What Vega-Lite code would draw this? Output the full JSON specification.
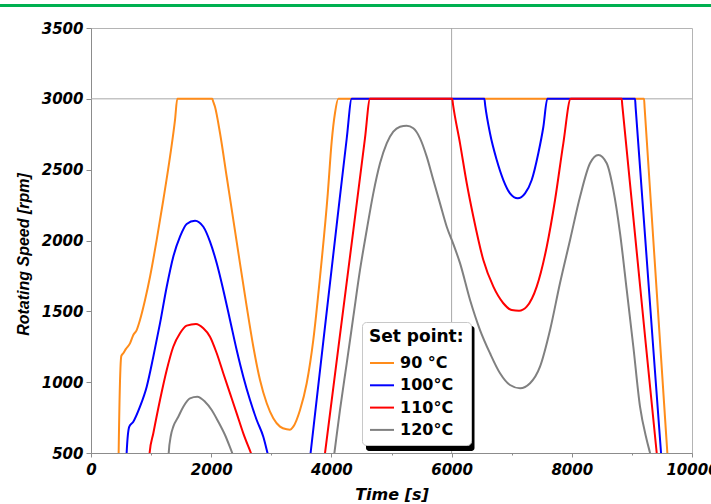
{
  "$schema": "https://vega.github.io/schema/vega-lite/v6.json",
  "width": 601,
  "height": 425,
  "autosize": "none",
  "padding": {"left": 91, "top": 28, "right": 19, "bottom": 51},
  "background": "white",
  "view": {"stroke": "#b4b4b4", "fill": "white"},
  "config": {
    "axis": {
      "gridColor": "#dadada",
      "gridWidth": 1,
      "domainColor": "#8c8c8c",
      "tickColor": "#8c8c8c",
      "labelColor": "black",
      "titleColor": "black"
    }
  },
  "datasets": {
    "speed": [
      {"t": 0, "rpm": 0, "sp": "90 °C"},
      {"t": 445, "rpm": 0, "sp": "90 °C"},
      {"t": 460, "rpm": 500, "sp": "90 °C"},
      {"t": 490, "rpm": 1100, "sp": "90 °C"},
      {"t": 505, "rpm": 1185, "sp": "90 °C"},
      {"t": 537, "rpm": 1204, "sp": "90 °C"},
      {"t": 582, "rpm": 1235, "sp": "90 °C"},
      {"t": 649, "rpm": 1274, "sp": "90 °C"},
      {"t": 704, "rpm": 1333, "sp": "90 °C"},
      {"t": 760, "rpm": 1368, "sp": "90 °C"},
      {"t": 815, "rpm": 1439, "sp": "90 °C"},
      {"t": 899, "rpm": 1580, "sp": "90 °C"},
      {"t": 982, "rpm": 1744, "sp": "90 °C"},
      {"t": 1093, "rpm": 2004, "sp": "90 °C"},
      {"t": 1203, "rpm": 2286, "sp": "90 °C"},
      {"t": 1315, "rpm": 2592, "sp": "90 °C"},
      {"t": 1398, "rpm": 2851, "sp": "90 °C"},
      {"t": 1436, "rpm": 3000, "sp": "90 °C"},
      {"t": 2018, "rpm": 3000, "sp": "90 °C"},
      {"t": 2030, "rpm": 2985, "sp": "90 °C"},
      {"t": 2063, "rpm": 2944, "sp": "90 °C"},
      {"t": 2147, "rpm": 2757, "sp": "90 °C"},
      {"t": 2258, "rpm": 2450, "sp": "90 °C"},
      {"t": 2368, "rpm": 2145, "sp": "90 °C"},
      {"t": 2479, "rpm": 1839, "sp": "90 °C"},
      {"t": 2591, "rpm": 1533, "sp": "90 °C"},
      {"t": 2701, "rpm": 1250, "sp": "90 °C"},
      {"t": 2812, "rpm": 1015, "sp": "90 °C"},
      {"t": 2924, "rpm": 851, "sp": "90 °C"},
      {"t": 3033, "rpm": 745, "sp": "90 °C"},
      {"t": 3145, "rpm": 686, "sp": "90 °C"},
      {"t": 3256, "rpm": 667, "sp": "90 °C"},
      {"t": 3311, "rpm": 665, "sp": "90 °C"},
      {"t": 3366, "rpm": 686, "sp": "90 °C"},
      {"t": 3478, "rpm": 804, "sp": "90 °C"},
      {"t": 3589, "rpm": 992, "sp": "90 °C"},
      {"t": 3699, "rpm": 1298, "sp": "90 °C"},
      {"t": 3811, "rpm": 1744, "sp": "90 °C"},
      {"t": 3940, "rpm": 2333, "sp": "90 °C"},
      {"t": 4005, "rpm": 2700, "sp": "90 °C"},
      {"t": 4060, "rpm": 2900, "sp": "90 °C"},
      {"t": 4115, "rpm": 3000, "sp": "90 °C"},
      {"t": 9202, "rpm": 3000, "sp": "90 °C"},
      {"t": 9212, "rpm": 2935, "sp": "90 °C"},
      {"t": 9590, "rpm": 500, "sp": "90 °C"},
      {"t": 9668, "rpm": 0, "sp": "90 °C"},
      {"t": 10000, "rpm": 0, "sp": "90 °C"},

      {"t": 0, "rpm": 0, "sp": "100°C"},
      {"t": 575, "rpm": 0, "sp": "100°C"},
      {"t": 593, "rpm": 500, "sp": "100°C"},
      {"t": 637, "rpm": 686, "sp": "100°C"},
      {"t": 704, "rpm": 721, "sp": "100°C"},
      {"t": 815, "rpm": 827, "sp": "100°C"},
      {"t": 927, "rpm": 968, "sp": "100°C"},
      {"t": 1037, "rpm": 1180, "sp": "100°C"},
      {"t": 1148, "rpm": 1415, "sp": "100°C"},
      {"t": 1260, "rpm": 1674, "sp": "100°C"},
      {"t": 1369, "rpm": 1886, "sp": "100°C"},
      {"t": 1481, "rpm": 2027, "sp": "100°C"},
      {"t": 1592, "rpm": 2117, "sp": "100°C"},
      {"t": 1731, "rpm": 2140, "sp": "100°C"},
      {"t": 1869, "rpm": 2097, "sp": "100°C"},
      {"t": 1980, "rpm": 1992, "sp": "100°C"},
      {"t": 2092, "rpm": 1839, "sp": "100°C"},
      {"t": 2201, "rpm": 1651, "sp": "100°C"},
      {"t": 2313, "rpm": 1439, "sp": "100°C"},
      {"t": 2424, "rpm": 1227, "sp": "100°C"},
      {"t": 2534, "rpm": 1039, "sp": "100°C"},
      {"t": 2646, "rpm": 874, "sp": "100°C"},
      {"t": 2757, "rpm": 733, "sp": "100°C"},
      {"t": 2867, "rpm": 615, "sp": "100°C"},
      {"t": 2937, "rpm": 500, "sp": "100°C"},
      {"t": 3200, "rpm": 0, "sp": "100°C"},
      {"t": 3520, "rpm": 0, "sp": "100°C"},
      {"t": 3654, "rpm": 500, "sp": "100°C"},
      {"t": 3866, "rpm": 1290, "sp": "100°C"},
      {"t": 4088, "rpm": 2110, "sp": "100°C"},
      {"t": 4255, "rpm": 2720, "sp": "100°C"},
      {"t": 4338, "rpm": 3000, "sp": "100°C"},
      {"t": 6545, "rpm": 3000, "sp": "100°C"},
      {"t": 6560, "rpm": 2950, "sp": "100°C"},
      {"t": 6639, "rpm": 2757, "sp": "100°C"},
      {"t": 6751, "rpm": 2568, "sp": "100°C"},
      {"t": 6861, "rpm": 2427, "sp": "100°C"},
      {"t": 6972, "rpm": 2333, "sp": "100°C"},
      {"t": 7100, "rpm": 2298, "sp": "100°C"},
      {"t": 7222, "rpm": 2333, "sp": "100°C"},
      {"t": 7333, "rpm": 2427, "sp": "100°C"},
      {"t": 7443, "rpm": 2616, "sp": "100°C"},
      {"t": 7527, "rpm": 2803, "sp": "100°C"},
      {"t": 7593, "rpm": 3000, "sp": "100°C"},
      {"t": 9052, "rpm": 3000, "sp": "100°C"},
      {"t": 9062, "rpm": 2940, "sp": "100°C"},
      {"t": 9485, "rpm": 500, "sp": "100°C"},
      {"t": 9572, "rpm": 0, "sp": "100°C"},
      {"t": 10000, "rpm": 0, "sp": "100°C"},

      {"t": 0, "rpm": 0, "sp": "110°C"},
      {"t": 950, "rpm": 0, "sp": "110°C"},
      {"t": 975, "rpm": 500, "sp": "110°C"},
      {"t": 1037, "rpm": 639, "sp": "110°C"},
      {"t": 1148, "rpm": 874, "sp": "110°C"},
      {"t": 1260, "rpm": 1086, "sp": "110°C"},
      {"t": 1369, "rpm": 1250, "sp": "110°C"},
      {"t": 1481, "rpm": 1345, "sp": "110°C"},
      {"t": 1592, "rpm": 1399, "sp": "110°C"},
      {"t": 1747, "rpm": 1411, "sp": "110°C"},
      {"t": 1869, "rpm": 1380, "sp": "110°C"},
      {"t": 1980, "rpm": 1321, "sp": "110°C"},
      {"t": 2092, "rpm": 1204, "sp": "110°C"},
      {"t": 2201, "rpm": 1063, "sp": "110°C"},
      {"t": 2313, "rpm": 921, "sp": "110°C"},
      {"t": 2424, "rpm": 780, "sp": "110°C"},
      {"t": 2534, "rpm": 639, "sp": "110°C"},
      {"t": 2661, "rpm": 500, "sp": "110°C"},
      {"t": 3120, "rpm": 0, "sp": "110°C"},
      {"t": 3745, "rpm": 0, "sp": "110°C"},
      {"t": 3894, "rpm": 500, "sp": "110°C"},
      {"t": 4143, "rpm": 1333, "sp": "110°C"},
      {"t": 4365, "rpm": 2072, "sp": "110°C"},
      {"t": 4559, "rpm": 2722, "sp": "110°C"},
      {"t": 4643, "rpm": 3000, "sp": "110°C"},
      {"t": 6010, "rpm": 3000, "sp": "110°C"},
      {"t": 6025, "rpm": 2955, "sp": "110°C"},
      {"t": 6140, "rpm": 2686, "sp": "110°C"},
      {"t": 6252, "rpm": 2404, "sp": "110°C"},
      {"t": 6362, "rpm": 2168, "sp": "110°C"},
      {"t": 6528, "rpm": 1862, "sp": "110°C"},
      {"t": 6695, "rpm": 1674, "sp": "110°C"},
      {"t": 6861, "rpm": 1557, "sp": "110°C"},
      {"t": 7000, "rpm": 1509, "sp": "110°C"},
      {"t": 7122, "rpm": 1504, "sp": "110°C"},
      {"t": 7250, "rpm": 1533, "sp": "110°C"},
      {"t": 7416, "rpm": 1674, "sp": "110°C"},
      {"t": 7583, "rpm": 1956, "sp": "110°C"},
      {"t": 7721, "rpm": 2286, "sp": "110°C"},
      {"t": 7859, "rpm": 2686, "sp": "110°C"},
      {"t": 7982, "rpm": 3000, "sp": "110°C"},
      {"t": 8830, "rpm": 3000, "sp": "110°C"},
      {"t": 8840, "rpm": 2955, "sp": "110°C"},
      {"t": 9413, "rpm": 500, "sp": "110°C"},
      {"t": 9530, "rpm": 0, "sp": "110°C"},
      {"t": 10000, "rpm": 0, "sp": "110°C"},

      {"t": 0, "rpm": 0, "sp": "120°C"},
      {"t": 1275, "rpm": 0, "sp": "120°C"},
      {"t": 1293, "rpm": 500, "sp": "120°C"},
      {"t": 1330, "rpm": 625, "sp": "120°C"},
      {"t": 1369, "rpm": 686, "sp": "120°C"},
      {"t": 1453, "rpm": 756, "sp": "120°C"},
      {"t": 1536, "rpm": 827, "sp": "120°C"},
      {"t": 1647, "rpm": 886, "sp": "120°C"},
      {"t": 1769, "rpm": 897, "sp": "120°C"},
      {"t": 1897, "rpm": 862, "sp": "120°C"},
      {"t": 2008, "rpm": 804, "sp": "120°C"},
      {"t": 2118, "rpm": 721, "sp": "120°C"},
      {"t": 2230, "rpm": 627, "sp": "120°C"},
      {"t": 2350, "rpm": 500, "sp": "120°C"},
      {"t": 2820, "rpm": 0, "sp": "120°C"},
      {"t": 3897, "rpm": 0, "sp": "120°C"},
      {"t": 4050, "rpm": 500, "sp": "120°C"},
      {"t": 4143, "rpm": 804, "sp": "120°C"},
      {"t": 4255, "rpm": 1133, "sp": "120°C"},
      {"t": 4365, "rpm": 1462, "sp": "120°C"},
      {"t": 4476, "rpm": 1792, "sp": "120°C"},
      {"t": 4588, "rpm": 2074, "sp": "120°C"},
      {"t": 4697, "rpm": 2333, "sp": "120°C"},
      {"t": 4809, "rpm": 2545, "sp": "120°C"},
      {"t": 4920, "rpm": 2686, "sp": "120°C"},
      {"t": 5030, "rpm": 2768, "sp": "120°C"},
      {"t": 5142, "rpm": 2803, "sp": "120°C"},
      {"t": 5253, "rpm": 2810, "sp": "120°C"},
      {"t": 5363, "rpm": 2792, "sp": "120°C"},
      {"t": 5475, "rpm": 2721, "sp": "120°C"},
      {"t": 5586, "rpm": 2592, "sp": "120°C"},
      {"t": 5696, "rpm": 2427, "sp": "120°C"},
      {"t": 5807, "rpm": 2262, "sp": "120°C"},
      {"t": 5919, "rpm": 2097, "sp": "120°C"},
      {"t": 6029, "rpm": 1975, "sp": "120°C"},
      {"t": 6140, "rpm": 1840, "sp": "120°C"},
      {"t": 6307, "rpm": 1580, "sp": "120°C"},
      {"t": 6473, "rpm": 1368, "sp": "120°C"},
      {"t": 6639, "rpm": 1204, "sp": "120°C"},
      {"t": 6806, "rpm": 1063, "sp": "120°C"},
      {"t": 6972, "rpm": 980, "sp": "120°C"},
      {"t": 7139, "rpm": 957, "sp": "120°C"},
      {"t": 7305, "rpm": 992, "sp": "120°C"},
      {"t": 7471, "rpm": 1109, "sp": "120°C"},
      {"t": 7638, "rpm": 1368, "sp": "120°C"},
      {"t": 7804, "rpm": 1700, "sp": "120°C"},
      {"t": 7971, "rpm": 2004, "sp": "120°C"},
      {"t": 8137, "rpm": 2309, "sp": "120°C"},
      {"t": 8303, "rpm": 2545, "sp": "120°C"},
      {"t": 8442, "rpm": 2604, "sp": "120°C"},
      {"t": 8581, "rpm": 2545, "sp": "120°C"},
      {"t": 8691, "rpm": 2357, "sp": "120°C"},
      {"t": 8803, "rpm": 2051, "sp": "120°C"},
      {"t": 8914, "rpm": 1651, "sp": "120°C"},
      {"t": 9024, "rpm": 1250, "sp": "120°C"},
      {"t": 9135, "rpm": 827, "sp": "120°C"},
      {"t": 9247, "rpm": 592, "sp": "120°C"},
      {"t": 9302, "rpm": 500, "sp": "120°C"},
      {"t": 9550, "rpm": 0, "sp": "120°C"},
      {"t": 10000, "rpm": 0, "sp": "120°C"}
    ]
  },
  "layer": [
    {
      "description": "green header stripe above the plot",
      "data": {"values": [{}]},
      "mark": {"type": "rule", "color": "#00b050", "strokeWidth": 3, "clip": false},
      "encoding": {
        "x": {"datum": -1514, "type": "quantitative"},
        "x2": {"datum": 10316},
        "y": {"datum": 3659, "type": "quantitative"}
      }
    },
    {
      "description": "darker reference grid lines",
      "data": {"values": [{}]},
      "mark": {"type": "rule", "color": "#a8a8a8", "strokeWidth": 1},
      "encoding": {"y": {"datum": 3000, "type": "quantitative"}}
    },
    {
      "data": {"values": [{}]},
      "mark": {"type": "rule", "color": "#a8a8a8", "strokeWidth": 1},
      "encoding": {"x": {"datum": 6000, "type": "quantitative"}}
    },
    {
      "data": {"name": "speed"},
      "mark": {"type": "line", "strokeWidth": 2, "clip": true, "interpolate": "monotone"},
      "encoding": {
        "x": {
          "field": "t",
          "type": "quantitative",
          "scale": {"domain": [0, 10000], "nice": false},
          "axis": {
            "title": "Time [s]",
            "values": [0, 1000, 2000, 3000, 4000, 5000, 6000, 7000, 8000, 9000, 10000],
            "format": "d",
            "labelExpr": "datum.value % 2000 === 0 ? datum.label : ''",
            "gridOpacity": {"condition": {"test": "datum.value % 2000 !== 0", "value": 0}, "value": 1},
            "tickSize": {"condition": {"test": "datum.value % 2000 !== 0", "value": 2}, "value": 4},
            "labelFont": "DejaVu Sans",
            "labelFontWeight": "bold",
            "labelFontStyle": "italic",
            "labelFontSize": 15,
            "labelPadding": 5,
            "labelFlush": false,
            "labelOverlap": false,
            "titleFont": "DejaVu Sans",
            "titleFontWeight": "bold",
            "titleFontStyle": "italic",
            "titleFontSize": 16,
            "titleBaseline": "middle",
            "titleY": 41
          }
        },
        "y": {
          "field": "rpm",
          "type": "quantitative",
          "scale": {"domain": [500, 3500], "nice": false, "zero": false},
          "axis": {
            "title": "Rotating Speed [rpm]",
            "values": [500, 750, 1000, 1250, 1500, 1750, 2000, 2250, 2500, 2750, 3000, 3250, 3500],
            "format": "d",
            "labelExpr": "datum.value % 500 === 0 ? datum.label : ''",
            "gridOpacity": {"condition": {"test": "datum.value % 500 !== 0", "value": 0}, "value": 1},
            "tickSize": {"condition": {"test": "datum.value % 500 !== 0", "value": 3}, "value": 5},
            "labelFont": "DejaVu Sans",
            "labelFontWeight": "bold",
            "labelFontStyle": "italic",
            "labelFontSize": 15,
            "labelPadding": 3,
            "labelOverlap": false,
            "titleFont": "Liberation Sans",
            "titleFontWeight": "bold",
            "titleFontStyle": "italic",
            "titleFontSize": 16,
            "titleAngle": -90,
            "titleAlign": "center",
            "titleBaseline": "middle",
            "titleX": -68,
            "titleY": 226
          }
        },
        "color": {
          "field": "sp",
          "type": "nominal",
          "scale": {
            "domain": ["90 °C", "100°C", "110°C", "120°C"],
            "range": ["#ff8c1a", "#0000ff", "#ff0000", "#808080"]
          },
          "legend": {
            "title": "Set point:",
            "orient": "none",
            "legendX": 271,
            "legendY": 294,
            "fillColor": "white",
            "strokeColor": "#c8c8c8",
            "cornerRadius": 4,
            "padding": 7,
            "titleFont": "DejaVu Sans",
            "titleFontSize": 17,
            "titleFontWeight": "bold",
            "titleColor": "black",
            "titlePadding": 4,
            "labelFont": "DejaVu Sans",
            "labelFontSize": 16,
            "labelFontWeight": "bold",
            "labelColor": "black",
            "labelOffset": 5,
            "symbolType": "stroke",
            "symbolStrokeWidth": 2,
            "symbolSize": 576,
            "rowPadding": 1.3
          }
        }
      }
    },
    {
      "description": "drop shadow behind the legend box",
      "data": {"values": [{}]},
      "mark": {"type": "rect", "color": "black", "cornerRadius": 3, "clip": false},
      "encoding": {
        "x": {"datum": 4576, "type": "quantitative"},
        "x2": {"datum": 6381},
        "y": {"datum": 1396, "type": "quantitative"},
        "y2": {"datum": 514}
      }
    }
  ]
}
